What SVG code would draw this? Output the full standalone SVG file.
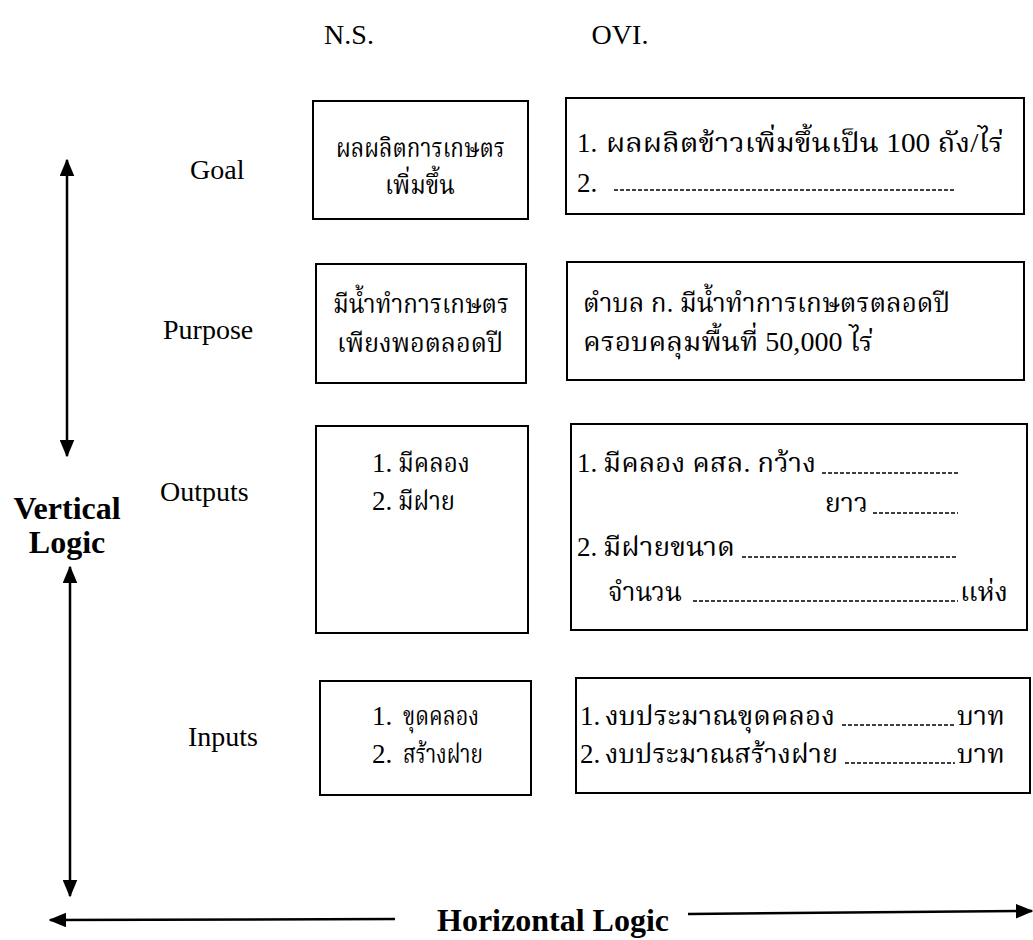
<svg xmlns="http://www.w3.org/2000/svg" width="1033" height="940" viewBox="0 0 1033 940">
  <style>
    .bg { fill: #ffffff; }
    .box { fill: #ffffff; stroke: #000000; stroke-width: 2; }
    .t { font-family: "Liberation Serif", "Noto Serif Thai", "Noto Sans Thai", serif; font-size: 28px; fill: #000000; }
    .th { font-family: "Liberation Serif", "Noto Serif Thai", "Noto Sans Thai", serif; font-size: 27px; fill: #000000; }
    .b { font-family: "Liberation Serif", serif; font-size: 32px; font-weight: bold; fill: #000000; }
    .mid { text-anchor: middle; }
    .end { text-anchor: end; }
    .dots { stroke: #000000; stroke-width: 1.6; stroke-dasharray: 4 2; fill: none; }
    .arrow { stroke: #000000; stroke-width: 2.5; fill: none; }
  </style>
  <defs>
    <marker id="head" viewBox="0 0 12 10" refX="11" refY="5" markerWidth="7" markerHeight="6" orient="auto-start-reverse" markerUnits="strokeWidth">
      <path d="M0,0 L12,5 L0,10 Z" fill="#000000"/>
    </marker>
  </defs>

  <rect class="bg" x="0" y="0" width="1033" height="940"/>

  <!-- column headings -->
  <g id="headings">
    <text class="t mid" x="349" y="44">N.S.</text>
    <text class="t mid" x="620" y="44">OVI.</text>
  </g>

  <!-- row labels -->
  <g id="row-labels">
    <text class="t" x="190" y="179">Goal</text>
    <text class="t" x="163" y="339">Purpose</text>
    <text class="t" x="160" y="501">Outputs</text>
    <text class="t" x="188" y="746">Inputs</text>
  </g>

  <!-- Goal row -->
  <g id="goal-ns">
    <rect class="box" x="313" y="101" width="215" height="118"/>
    <text class="th" x="336" y="157" textLength="169" lengthAdjust="spacingAndGlyphs">ผลผลิตการเกษตร</text>
    <text class="th" x="385" y="194" textLength="70" lengthAdjust="spacingAndGlyphs">เพิ่มขึ้น</text>
  </g>
  <g id="goal-ovi">
    <rect class="box" x="566" y="98" width="458" height="116"/>
    <text class="th" x="577" y="152">1.</text>
    <text class="th" x="606" y="152" textLength="397" lengthAdjust="spacingAndGlyphs">ผลผลิตข้าวเพิ่มขึ้นเป็น 100 ถัง/ไร่</text>
    <text class="th" x="577" y="192">2.</text>
    <line class="dots" x1="614" y1="190" x2="955" y2="190"/>
  </g>

  <!-- Purpose row -->
  <g id="purpose-ns">
    <rect class="box" x="316" y="264" width="210" height="119"/>
    <text class="th" x="333" y="313" textLength="176" lengthAdjust="spacingAndGlyphs">มีน้ำทำการเกษตร</text>
    <text class="th" x="337" y="352" textLength="166" lengthAdjust="spacingAndGlyphs">เพียงพอตลอดปี</text>
  </g>
  <g id="purpose-ovi">
    <rect class="box" x="567" y="262" width="457" height="118"/>
    <text class="th" x="583" y="312" textLength="367" lengthAdjust="spacingAndGlyphs">ตำบล ก. มีน้ำทำการเกษตรตลอดปี</text>
    <text class="th" x="583" y="351" textLength="290" lengthAdjust="spacingAndGlyphs">ครอบคลุมพื้นที่ 50,000 ไร่</text>
  </g>

  <!-- Outputs row -->
  <g id="outputs-ns">
    <rect class="box" x="316" y="426" width="212" height="207"/>
    <text class="th" x="372" y="472">1.</text>
    <text class="th" x="398" y="472" textLength="72" lengthAdjust="spacingAndGlyphs">มีคลอง</text>
    <text class="th" x="372" y="510">2.</text>
    <text class="th" x="398" y="510" textLength="57" lengthAdjust="spacingAndGlyphs">มีฝาย</text>
  </g>
  <g id="outputs-ovi">
    <rect class="box" x="571" y="424" width="456" height="206"/>
    <text class="th" x="577" y="472">1.</text>
    <text class="th" x="603" y="472" textLength="213" lengthAdjust="spacingAndGlyphs">มีคลอง คสล. กว้าง</text>
    <line class="dots" x1="822" y1="473" x2="958" y2="473"/>
    <text class="th end" x="868" y="512">ยาว</text>
    <line class="dots" x1="873" y1="513" x2="958" y2="513"/>
    <text class="th" x="577" y="556">2.</text>
    <text class="th" x="603" y="556" textLength="132" lengthAdjust="spacingAndGlyphs">มีฝายขนาด</text>
    <line class="dots" x1="742" y1="557" x2="958" y2="557"/>
    <text class="th" x="608" y="601" textLength="74" lengthAdjust="spacingAndGlyphs">จำนวน</text>
    <line class="dots" x1="693" y1="601" x2="958" y2="601"/>
    <text class="th" x="960" y="601">แห่ง</text>
  </g>

  <!-- Inputs row -->
  <g id="inputs-ns">
    <rect class="box" x="320" y="681" width="211" height="114"/>
    <text class="th" x="372" y="725">1.</text>
    <text class="th" x="403" y="725" textLength="76" lengthAdjust="spacingAndGlyphs">ขุดคลอง</text>
    <text class="th" x="372" y="763">2.</text>
    <text class="th" x="403" y="763" textLength="80" lengthAdjust="spacingAndGlyphs">สร้างฝาย</text>
  </g>
  <g id="inputs-ovi">
    <rect class="box" x="576" y="678" width="454" height="115"/>
    <text class="th" x="580" y="725">1.</text>
    <text class="th" x="605" y="725" textLength="230" lengthAdjust="spacingAndGlyphs">งบประมาณขุดคลอง</text>
    <line class="dots" x1="842" y1="725" x2="955" y2="725"/>
    <text class="th" x="957" y="725">บาท</text>
    <text class="th" x="580" y="763">2.</text>
    <text class="th" x="605" y="763" textLength="233" lengthAdjust="spacingAndGlyphs">งบประมาณสร้างฝาย</text>
    <line class="dots" x1="845" y1="763" x2="955" y2="763"/>
    <text class="th" x="957" y="763">บาท</text>
  </g>

  <!-- axis captions -->
  <g id="vertical-logic">
    <text class="b mid" x="67" y="519">Vertical</text>
    <text class="b mid" x="67" y="553">Logic</text>
  </g>
  <g id="horizontal-logic">
    <text class="b" x="437" y="931">Horizontal Logic</text>
  </g>

  <!-- connectors: double-headed logic arrows -->
  <g id="connectors">
    <line class="arrow" x1="67" y1="160" x2="67" y2="456" marker-start="url(#head)" marker-end="url(#head)"/>
    <line class="arrow" x1="70" y1="567" x2="70" y2="896" marker-start="url(#head)" marker-end="url(#head)"/>
    <line class="arrow" x1="395" y1="919" x2="50" y2="920" marker-end="url(#head)"/>
    <line class="arrow" x1="688" y1="914" x2="1032" y2="911" marker-end="url(#head)"/>
  </g>
</svg>
